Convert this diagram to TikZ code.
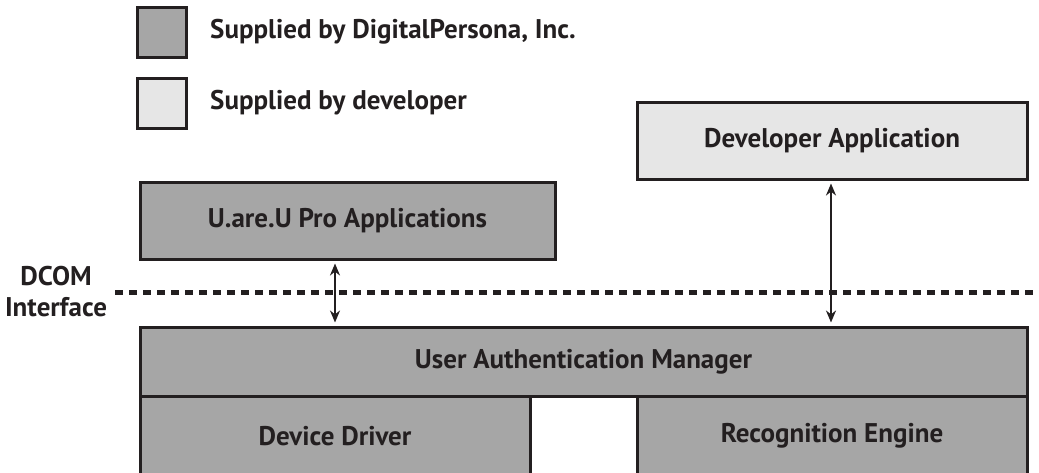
\documentclass[tikz,border=0pt]{standalone}
\usepackage{fontspec}
\setmainfont{PT Sans}
\usetikzlibrary{arrows.meta}
\definecolor{dpgray}{HTML}{A6A6A6}
\definecolor{devgray}{HTML}{E6E6E6}
\definecolor{edge}{HTML}{231F20}
\tikzset{
  box/.style={draw=edge, line width=3pt, fill=dpgray, inner sep=0pt, font=\fontsize{27}{30}\selectfont\bfseries, text=edge},
  devbox/.style={box, fill=devgray},
  lbl/.style={font=\fontsize{27}{30}\selectfont\bfseries, text=edge, inner sep=0pt},
  link/.style={draw=edge, line width=2.6pt, shorten <=3pt, shorten >=3pt, {Stealth[length=12pt,width=10pt]}-{Stealth[length=12pt,width=10pt]}},
}
\begin{document}
\begin{tikzpicture}[x=1pt,y=-1pt]
\useasboundingbox (0,0) rectangle (1039,472);
\clip (0,0) rectangle (1039,472);
% legend
\node[box, minimum width=49pt, minimum height=50pt] (lg1) at (161.5,32) {};
\node[devbox, minimum width=49pt, minimum height=50pt] (lg2) at (161.5,103) {};
\node[lbl, anchor=west] (lt1) at (210,32) {Supplied by DigitalPersona, Inc.};
\node[lbl, anchor=west] (lt2) at (210,103) {Supplied by developer};
% boxes
\node[devbox, minimum width=390pt, minimum height=77pt] (dev) at (832,140.5) {Developer Application};
\node[box, minimum width=415pt, minimum height=77pt] (ua) at (347.5,220.5) {U.are.U Pro Applications};
\node[box, minimum width=887pt, minimum height=69pt] (uam) at (583.5,361.5) {User Authentication Manager};
\node[box, minimum width=390pt, minimum height=90pt] (dd) at (335,441) {};
\node[box, minimum width=390pt, minimum height=90pt] (re) at (832,441) {};
\node[lbl] (ddl) at (335,436) {Device Driver};
\node[lbl] (rel) at (832,436) {Recognition Engine};
% DCOM interface
\coordinate (dl) at (115,292);
\coordinate (dr) at (1039,292);
\draw[draw=edge, line width=5pt, dash pattern=on 8pt off 6pt] (dl) -- (dr);
\node[lbl, align=center, font=\fontsize{27}{31}\selectfont\bfseries] (dcom) at (56,292) {DCOM\\Interface};
% links
\coordinate (la) at (335,0);
\coordinate (ra) at (831,0);
\draw[link] (ua.south -| la) -- (uam.north -| la);
\draw[link] (dev.south -| ra) -- (uam.north -| ra);
\end{tikzpicture}
\end{document}
